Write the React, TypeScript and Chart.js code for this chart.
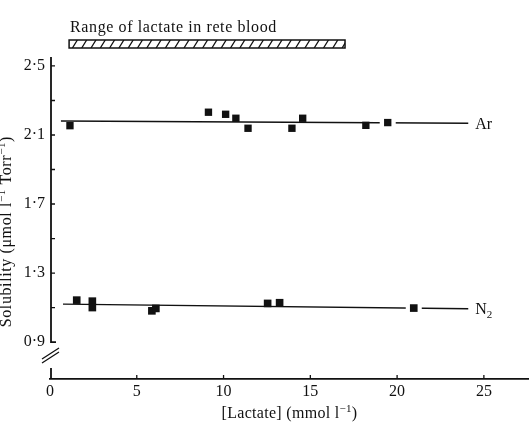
import React, { useEffect, useRef } from 'react';
import { Chart, registerables } from 'chart.js';

Chart.register(...registerables);

// ---- data ----
const AR_LACTATE = [1.15, 9.13, 10.12, 10.71, 11.41, 13.94, 14.56, 18.2, 19.46];
const AR_SOLUBILITY = [2.154, 2.232, 2.22, 2.197, 2.139, 2.139, 2.197, 2.156, 2.172];
const N2_LACTATE = [1.54, 2.44, 2.44, 5.87, 6.1, 12.54, 13.23, 20.96];
const N2_SOLUBILITY = [1.143, 1.137, 1.1, 1.081, 1.095, 1.124, 1.128, 1.097];

const AR_FIT_LACTATE = [0.63, 24.1];
const AR_FIT_SOLUBILITY = [2.181, 2.168];
const N2_FIT_LACTATE = [0.75, 24.1];
const N2_FIT_SOLUBILITY = [1.12, 1.093];

const X_TICKS = [0, 5, 10, 15, 20, 25];
const Y_LABEL_TICKS = [0.9, 1.3, 1.7, 2.1, 2.5];
const Y_MINOR_TICKS = [1.1, 1.5, 1.9, 2.3];
const RETE_RANGE = [1.1, 17.0];

const X_MIN = 0;
const X_MAX = 27.6;
const Y_MIN = 0.686;
const Y_MAX = 2.552;
const Y_BREAK_AT = 0.9;
const Y_TITLE_CENTER = 1.54;

const AR_LEADER_POINT = 8;
const N2_LEADER_POINT = 7;

const SERIES_LABELS = ['Ar', 'N'];
const RANGE_TITLE = 'Range of lactate in rete blood';

const INK = '#111';
const FAMILY = '"Liberation Serif", "Times New Roman", serif';

type Part = [string, number]; // 0 normal, 1 superscript, -1 subscript

function drawRich(ctx: CanvasRenderingContext2D, parts: Part[], x: number, y: number, align: 'left' | 'center', size: number, spacing = 0) {
  const fN = `${size}px ${FAMILY}`;
  const fS = `${Math.round(size * 0.68)}px ${FAMILY}`;
  (ctx as any).letterSpacing = `${spacing}px`;
  let total = 0;
  for (const [t, m] of parts) {
    ctx.font = m ? fS : fN;
    total += ctx.measureText(t).width;
  }
  let cx = align === 'center' ? x - total / 2 : x;
  ctx.textAlign = 'left';
  ctx.textBaseline = 'alphabetic';
  for (const [t, m] of parts) {
    ctx.font = m ? fS : fN;
    const dy = m === 1 ? -size * 0.38 : m === -1 ? size * 0.25 : 0;
    ctx.fillText(t, cx, y + dy);
    cx += ctx.measureText(t).width;
  }
  (ctx as any).letterSpacing = '0px';
}

const decorPlugin = {
  id: 'decor',
  beforeDatasetDraw(chart: any, args: any) {
    const idx = args.index === 0 ? AR_LEADER_POINT : args.index === 1 ? N2_LEADER_POINT : -1;
    if (idx < 0) return;
    const el = args.meta.data[idx];
    if (!el) return;
    const ctx = chart.ctx;
    ctx.save();
    ctx.fillStyle = '#fff';
    ctx.fillRect(el.x - 8, el.y - 5, 16, 10);
    ctx.restore();
  },
  afterDraw(chart: any) {
    const { ctx, chartArea, scales } = chart;
    const xs = scales.x;
    const ys = scales.y;
    const x0 = xs.getPixelForValue(X_MIN) + 1;
    const yBreak = ys.getPixelForValue(Y_BREAK_AT);
    ctx.save();
    ctx.strokeStyle = INK;
    ctx.fillStyle = INK;

    // y axis (broken)
    ctx.lineWidth = 1.8;
    ctx.beginPath();
    ctx.moveTo(x0, chartArea.top);
    ctx.lineTo(x0, yBreak);
    ctx.lineTo(x0 + 5, yBreak);
    ctx.moveTo(x0, chartArea.bottom - 11);
    ctx.lineTo(x0, chartArea.bottom);
    ctx.stroke();

    // break marks
    ctx.lineWidth = 1.3;
    ctx.beginPath();
    ctx.moveTo(x0 - 9, yBreak + 17);
    ctx.lineTo(x0 + 8, yBreak + 6);
    ctx.moveTo(x0 - 9, yBreak + 21);
    ctx.lineTo(x0 + 8, yBreak + 10);
    ctx.stroke();

    // inward y ticks
    ctx.lineWidth = 1.3;
    ctx.beginPath();
    for (const v of [...Y_LABEL_TICKS, ...Y_MINOR_TICKS]) {
      if (v === Y_BREAK_AT) continue;
      const py = ys.getPixelForValue(v);
      ctx.moveTo(x0, py);
      ctx.lineTo(x0 + 4, py);
    }
    // inward x ticks
    for (const v of X_TICKS) {
      if (v === X_MIN) continue;
      const px = xs.getPixelForValue(v);
      ctx.moveTo(px, chartArea.bottom);
      ctx.lineTo(px, chartArea.bottom - 4);
    }
    ctx.stroke();

    // hatched range bar
    const bx0 = xs.getPixelForValue(RETE_RANGE[0]);
    const bx1 = xs.getPixelForValue(RETE_RANGE[1]);
    const bh = 8;
    const by0 = chartArea.top - 17;
    ctx.save();
    ctx.beginPath();
    ctx.rect(bx0, by0, bx1 - bx0, bh);
    ctx.clip();
    ctx.lineWidth = 1.3;
    ctx.beginPath();
    for (let hx = bx0 - 6; hx < bx1 + 6; hx += 9.3) {
      ctx.moveTo(hx, by0 + bh);
      ctx.lineTo(hx + 5, by0);
    }
    ctx.stroke();
    ctx.restore();
    ctx.lineWidth = 1.5;
    ctx.strokeRect(bx0, by0, bx1 - bx0, bh);

    drawRich(ctx, [[RANGE_TITLE, 0]], bx0 + 1, chartArea.top - 25, 'left', 16, 0.6);

    // series labels
    const arX = xs.getPixelForValue(AR_FIT_LACTATE[1]) + 7;
    const arY = ys.getPixelForValue(AR_FIT_SOLUBILITY[1]) + 5.5;
    drawRich(ctx, [[SERIES_LABELS[0], 0]], arX, arY, 'left', 16);
    const nX = xs.getPixelForValue(N2_FIT_LACTATE[1]) + 7;
    const nY = ys.getPixelForValue(N2_FIT_SOLUBILITY[1]) + 5.5;
    drawRich(ctx, [[SERIES_LABELS[1], 0], ['2', -1]], nX, nY, 'left', 16);

    // axis titles
    drawRich(ctx, [['[Lactate] (mmol l', 0], ['\u22121', 1], [')', 0]],
      (chartArea.left + chartArea.right) / 2, 418, 'center', 16, 0.3);

    ctx.save();
    ctx.translate(11, ys.getPixelForValue(Y_TITLE_CENTER));
    ctx.rotate(-Math.PI / 2);
    drawRich(ctx, [['Solubility (\u03bcmol l', 0], ['\u22121', 1], [' Torr', 0], ['\u22121', 1], [')', 0]],
      0, 0, 'center', 16, 0.6);
    ctx.restore();

    ctx.restore();
  },
};

export default function App() {
  const ref = useRef<HTMLCanvasElement | null>(null);

  useEffect(() => {
    if (!ref.current) return;
    const pts = (xs: number[], ys: number[]) => xs.map((x, i) => ({ x, y: ys[i] }));
    const chart = new Chart(ref.current, {
      type: 'scatter',
      data: {
        datasets: [
          {
            label: 'Ar',
            data: pts(AR_LACTATE, AR_SOLUBILITY),
            pointStyle: 'rect',
            pointRadius: 5.2,
            backgroundColor: INK,
            borderWidth: 0,
          },
          {
            label: 'N2',
            data: pts(N2_LACTATE, N2_SOLUBILITY),
            pointStyle: 'rect',
            pointRadius: 5.4,
            backgroundColor: INK,
            borderWidth: 0,
          },
          {
            label: 'Ar fit',
            data: pts(AR_FIT_LACTATE, AR_FIT_SOLUBILITY),
            showLine: true,
            pointRadius: 0,
            borderColor: INK,
            borderWidth: 1.4,
          },
          {
            label: 'N2 fit',
            data: pts(N2_FIT_LACTATE, N2_FIT_SOLUBILITY),
            showLine: true,
            pointRadius: 0,
            borderColor: INK,
            borderWidth: 1.4,
          },
        ],
      },
      options: {
        responsive: false,
        animation: false,
        layout: { autoPadding: false, padding: { top: 57, left: 0, right: 0, bottom: 0 } },
        plugins: { legend: { display: false }, tooltip: { enabled: false } },
        scales: {
          x: {
            type: 'linear',
            min: X_MIN,
            max: X_MAX,
            grid: { display: false, drawTicks: false },
            border: { display: true, color: INK, width: 1.8 },
            afterBuildTicks: (s: any) => { s.ticks = X_TICKS.map((v) => ({ value: v })); },
            afterFit: (s: any) => { s.height = 43; },
            ticks: {
              autoSkip: false,
              maxRotation: 0,
              padding: 3,
              color: INK,
              font: { family: FAMILY, size: 16 },
              callback: (v: any) => String(v),
            },
          },
          y: {
            type: 'linear',
            min: Y_MIN,
            max: Y_MAX,
            grid: { display: false, drawTicks: false },
            border: { display: false },
            afterBuildTicks: (s: any) => { s.ticks = Y_LABEL_TICKS.map((v) => ({ value: v })); },
            afterFit: (s: any) => { s.width = 50; },
            ticks: {
              autoSkip: false,
              padding: 5,
              color: INK,
              font: { family: FAMILY, size: 16 },
              callback: (v: any) => Number(v).toFixed(1).replace('.', '\u00b7'),
            },
          },
        },
      },
      plugins: [decorPlugin],
    });
    return () => chart.destroy();
  }, []);

  return (
    <div style={{ position: 'fixed', left: 0, top: 0, width: 529, height: 422, background: '#fff' }}>
      <canvas ref={ref} width={529} height={422} style={{ display: 'block' }} />
    </div>
  );
}
